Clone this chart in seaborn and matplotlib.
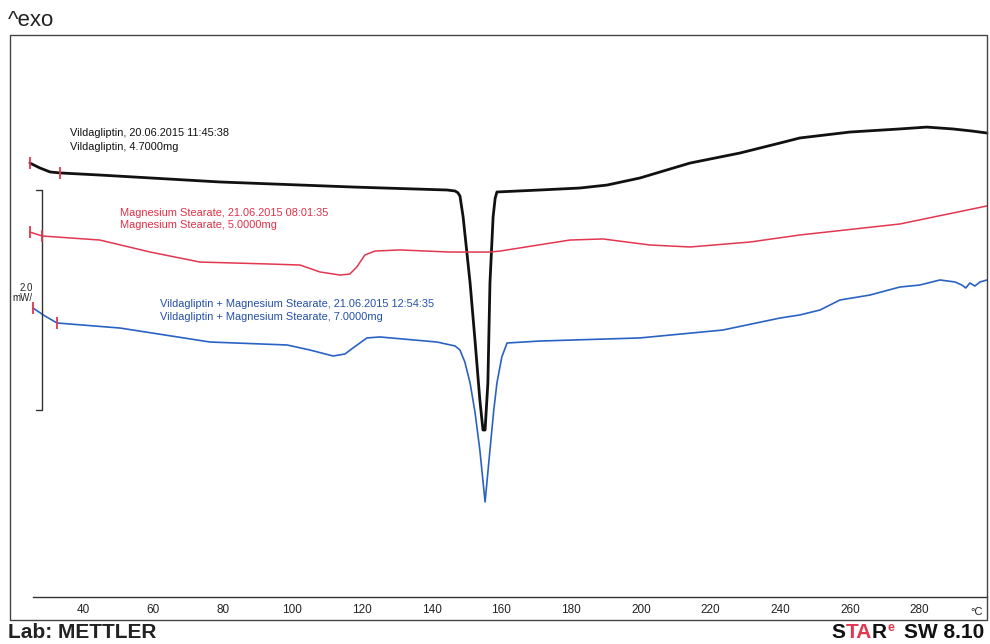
import matplotlib
matplotlib.use("Agg")
import matplotlib.pyplot as plt
import pandas as pd
import seaborn as sns
from matplotlib.patches import Rectangle

# DSC heat-flow curves (temperature in °C, heat flow in mW, offset per run)
vilda_temp = [24.7, 27.6, 30.5, 33.4, 44.8, 79.2, 117.4, 144.4, 146.7, 147.5, 148.1,
              149.0, 150.0, 151.0, 152.4, 153.8, 154.7, 155.3, 156.1, 156.7, 157.6,
              158.2, 158.7, 171.0, 182.5, 190.3, 199.7, 214.1, 228.4, 239.9, 245.6,
              260.0, 274.3, 282.0, 289.5, 295.0, 299.3]
vilda_flow = [3.945, 3.900, 3.864, 3.855, 3.836, 3.773, 3.727, 3.700, 3.691, 3.675, 3.645,
              3.455, 3.155, 2.855, 2.336, 1.791, 1.518, 1.518, 1.945, 2.855, 3.455,
              3.627, 3.682, 3.700, 3.718, 3.745, 3.809, 3.945, 4.036, 4.127, 4.173,
              4.227, 4.255, 4.272, 4.255, 4.236, 4.218]

mgst_temp = [24.7, 28.2, 44.8, 59.2, 73.5, 93.6, 102.2, 107.9, 113.7, 116.5, 118.5,
             120.8, 123.7, 130.9, 145.2, 156.7, 159.6, 179.6, 189.1, 202.6, 214.1,
             231.3, 245.6, 274.3, 299.3]
mgst_flow = [3.318, 3.282, 3.245, 3.136, 3.045, 3.027, 3.018, 2.955, 2.927, 2.936, 3.000,
             3.109, 3.145, 3.155, 3.136, 3.136, 3.145, 3.245, 3.255, 3.200, 3.182,
             3.227, 3.291, 3.391, 3.555]

mix_temp = [25.6, 29.0, 32.5, 50.6, 76.4, 98.5, 105.1, 111.7, 115.1, 117.4, 121.4,
            125.1, 141.5, 146.7, 148.1, 149.5, 151.0, 152.4, 153.8, 155.3, 156.7,
            157.8, 158.7, 160.1, 161.6, 171.0, 199.7, 223.5, 239.9, 245.6, 251.4,
            257.1, 265.7, 274.3, 280.0, 285.8, 290.1, 292.1, 293.2, 294.4, 295.8,
            297.3, 299.3]
mix_flow = [2.627, 2.555, 2.491, 2.445, 2.318, 2.291, 2.245, 2.191, 2.209, 2.264, 2.355,
            2.364, 2.318, 2.282, 2.245, 2.136, 1.945, 1.682, 1.336, 0.864, 1.336,
            1.700, 1.945, 2.182, 2.309, 2.327, 2.355, 2.427, 2.536, 2.564, 2.609,
            2.700, 2.745, 2.818, 2.836, 2.882, 2.864, 2.836, 2.809, 2.855, 2.827,
            2.864, 2.882]

# evaluation limits marked on each curve (start / end of baseline)
vilda_marks = [24.7, 33.4]
mgst_marks = [24.7, 28.2]
mix_marks = [25.6, 32.5]

labels_vilda = ["Vildagliptin, 20.06.2015 11:45:38", "Vildagliptin, 4.7000mg"]
labels_mgst = ["Magnesium Stearate, 21.06.2015 08:01:35", "Magnesium Stearate, 5.0000mg"]
labels_mix = ["Vildagliptin + Magnesium Stearate, 21.06.2015 12:54:35",
              "Vildagliptin + Magnesium Stearate, 7.0000mg"]

x_ticks = list(range(40, 281, 20))
x_minor = list(range(30, 291, 20))

BLACK = "#111111"
RED = "#e33650"
BLUE = "#2a62c4"
RED_TXT = "#de3048"
BLUE_TXT = "#2450a8"

sns.set_style("white")
plt.rcParams["font.family"] = ["Liberation Sans", "DejaVu Sans"]

W, H = 990, 644
fig = plt.figure(figsize=(W / 100, H / 100), dpi=100)


def fx(x):
    return x / W


def fy(y):
    return 1 - y / H


ax = fig.add_axes([fx(33), fy(597), (987 - 33) / W, (597 - 35) / H])
ax.set_xlim(25.6, 299.3)
ax.set_ylim(0, (597 - 35) / 110)

runs = [
    (vilda_temp, vilda_flow, BLACK, 2.0, vilda_marks),
    (mgst_temp, mgst_flow, RED, 1.1, mgst_marks),
    (mix_temp, mix_flow, BLUE, 1.2, mix_marks),
]
for temp, flow, color, lw, marks in runs:
    df = pd.DataFrame({"temp": temp, "flow": flow})
    sns.lineplot(data=df, x="temp", y="flow", ax=ax, color=color, lw=lw,
                 sort=False, estimator=None, clip_on=False, legend=False)
    mark_y = [flow[temp.index(t)] for t in marks]
    ax.plot(marks, mark_y, ls="none", marker="|", ms=8, mew=1.3, color=RED,
            clip_on=False, zorder=5)

# 2.0 mW scale bar
ax.plot([26.46, 28.18, 28.18, 26.46], [3.70, 3.70, 1.70, 1.70],
        color="#333333", lw=1.0, clip_on=False)

for s in ["top", "left", "right"]:
    ax.spines[s].set_visible(False)
ax.spines["bottom"].set_color("#333333")
ax.spines["bottom"].set_linewidth(1.0)
ax.set_xticks(x_ticks)
ax.set_xticks(x_minor, minor=True)
ax.set_yticks([])
ax.tick_params(axis="x", which="both", direction="out", length=3, width=1,
               color="#333333", pad=2, labelsize=8.5, labelcolor="#222222")
ax.set_xlabel("")
ax.set_ylabel("")

# outer frame
fig.patches.append(Rectangle((fx(10), fy(620)), (987 - 10) / W, (620 - 35) / H,
                             transform=fig.transFigure, fill=False,
                             lw=1.0, ec="#444444"))

fig.text(fx(977), fy(612), "°C", ha="center", va="center", fontsize=8, color="#222222")
fig.text(fx(26), fy(288.5), "2.0", ha="center", va="center", fontsize=7, color="#222222")
fig.text(fx(22), fy(298.5), "mW/", ha="center", va="center", fontsize=7, color="#222222")

for (line1, line2), color, x0, y1, y2 in [
    (labels_vilda, BLACK, 70, 132.5, 146.5),
    (labels_mgst, RED_TXT, 120, 212.5, 224.5),
    (labels_mix, BLUE_TXT, 160, 304, 317.5),
]:
    fig.text(fx(x0), fy(y1), line1, ha="left", va="center", fontsize=7.9, color=color)
    fig.text(fx(x0), fy(y2), line2, ha="left", va="center", fontsize=7.9, color=color)

fig.text(fx(8), fy(26), "^exo", ha="left", va="baseline", fontsize=16, color="#222222")
fig.text(fx(8), fy(638), "Lab: METTLER", ha="left", va="baseline", fontsize=15,
         fontweight="bold", color="#222222")

# software signature with coloured letters
renderer = fig.canvas.get_renderer()
parts = [("S", BLACK, 15, 0, 0), ("TA", RED, 15, 0, 0), ("R", BLACK, 15, 0, 0),
         ("e", RED, 9, 7, 1), ("SW 8.10", BLACK, 15, 0, 9)]
pieces = []
for txt, color, size, rise, gap in parts:
    t = fig.text(0, 0, txt, fontsize=size, fontweight="bold", color=color,
                 ha="left", va="baseline")
    w = t.get_window_extent(renderer).width
    pieces.append((t, w, rise, gap))
total = sum(w + gap for _, w, _, gap in pieces)
x = 984 - total
for t, w, rise, gap in pieces:
    x += gap
    t.set_position((fx(x), fy(638 - rise)))
    x += w

fig.savefig("out.png", dpi=100)
